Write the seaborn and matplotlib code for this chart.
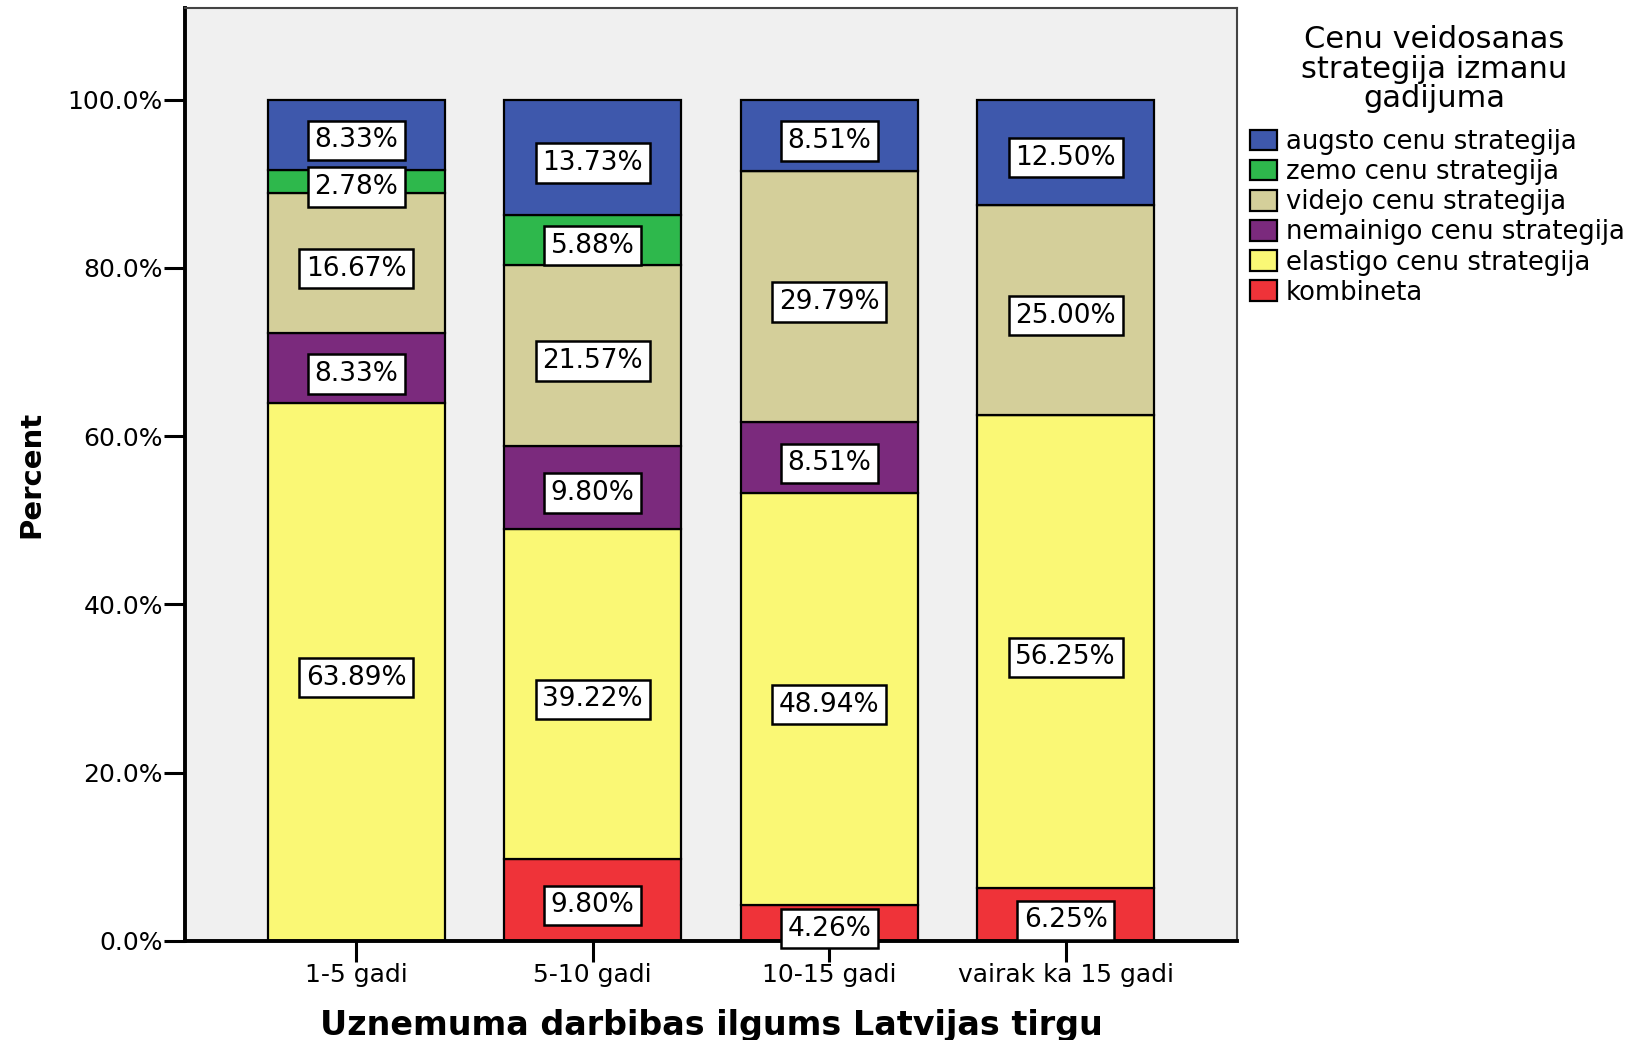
import matplotlib
matplotlib.use("Agg")
import matplotlib.pyplot as plt
import matplotlib.transforms as mtransforms
from matplotlib.patches import Patch
import numpy as np
import pandas as pd
import seaborn as sns

# ---- data ----
categories = ["1-5 gadi", "5-10 gadi", "10-15 gadi", "vairak ka 15 gadi"]
# stacked bottom -> top
kombineta = [0.0, 9.80, 4.26, 6.25]
elastigo = [63.89, 39.22, 48.94, 56.25]
nemainigo = [8.33, 9.80, 8.51, 0.0]
videjo = [16.67, 21.57, 29.79, 25.00]
zemo = [2.78, 5.88, 0.0, 0.0]
augsto = [8.33, 13.73, 8.51, 12.50]

series_names = ["kombineta", "elastigo cenu strategija", "nemainigo cenu strategija",
                "videjo cenu strategija", "zemo cenu strategija", "augsto cenu strategija"]
series_values = [kombineta, elastigo, nemainigo, videjo, zemo, augsto]
series_colors = ["#EF3339", "#FAF875", "#7B2A7D", "#D4CF9A", "#2EB84C", "#3E58AC"]

legend_title_lines = ["Cenu veidosanas", "strategija izmanu", "gadijuma"]
x_label = "Uznemuma darbibas ilgums Latvijas tirgu"
y_label = "Percent"
y_ticks = [0, 20, 40, 60, 80, 100]

sns.set_style("white")
plt.rcParams["font.family"] = ["DejaVu Sans"]
plt.rcParams["text.color"] = "black"
plt.rcParams["axes.labelcolor"] = "black"
plt.rcParams["xtick.color"] = "black"
plt.rcParams["ytick.color"] = "black"

W, H = 1638, 1040
fig = plt.figure(figsize=(W / 100, H / 100), dpi=100)
ax = fig.add_axes([185 / W, 1 - 941 / H, (1237 - 185) / W, (941 - 8) / H])
ax.set_facecolor("#F0F0F0")

label_trans = mtransforms.offset_copy(ax.transData, fig=fig, x=0, y=-4.0, units="points")

bottom = np.zeros(len(categories))
for name, vals, col in zip(series_names, series_values, series_colors):
    df = pd.DataFrame({"cat": categories, "val": vals})
    sns.barplot(data=df, x="cat", y="val", order=categories, color=col, width=0.75,
                bottom=bottom.copy(), edgecolor="black", linewidth=1.6, saturation=1,
                errorbar=None, ax=ax)
    for i, v in enumerate(vals):
        if v > 0:
            ax.text(i, bottom[i] + v / 2, f"{v:.2f}%", ha="center", va="center",
                    fontsize=19, color="black", zorder=5, transform=label_trans,
                    bbox=dict(boxstyle="square,pad=0.25", facecolor="white",
                              edgecolor="black", linewidth=1.8))
    bottom += np.array(vals)

ax.set_xlim(-0.725, 3.725)
ax.set_ylim(0, 110.9)
ax.set_yticks(y_ticks)
ax.set_yticklabels([f"{t:.1f}%" for t in y_ticks])
ax.tick_params(axis="both", which="both", direction="out", length=15, width=2.2,
               color="black", labelsize=18, left=True, bottom=True)
ax.tick_params(axis="x", pad=0.6)
ax.tick_params(axis="y", pad=1.0)
ax.set_xlabel(x_label, fontsize=24, fontweight="bold", va="center")
ax.xaxis.set_label_coords(0.5, (941 - 1025) / 933)
ax.set_ylabel(y_label, fontsize=21, fontweight="bold", va="center")
ax.yaxis.set_label_coords((31 - 185) / 1052, 0.5)

for s in ["left", "bottom"]:
    ax.spines[s].set_color("black")
    ax.spines[s].set_linewidth(2.8)
for s in ["top", "right"]:
    ax.spines[s].set_visible(True)
    ax.spines[s].set_color("#444444")
    ax.spines[s].set_linewidth(1.5)

# legend title (three centred lines)
for k, line in enumerate(legend_title_lines):
    fig.text(1434 / W, 1 - (40 + 29.3 * k) / H, line, ha="center", va="center",
             fontsize=22, color="black")

handles = [Patch(facecolor=c, edgecolor="black", linewidth=1.6, label=n)
           for n, c in zip(series_names, series_colors)]
handles = handles[::-1]
leg = fig.legend(handles=handles, loc="upper left",
                 bbox_to_anchor=(1250 / W, 1 - 129 / H), frameon=False,
                 fontsize=18.6, handlelength=1.04, handleheight=0.85,
                 handletextpad=0.35, labelspacing=0.16, borderpad=0, borderaxespad=0)

fig.savefig("out.png", dpi=100)
